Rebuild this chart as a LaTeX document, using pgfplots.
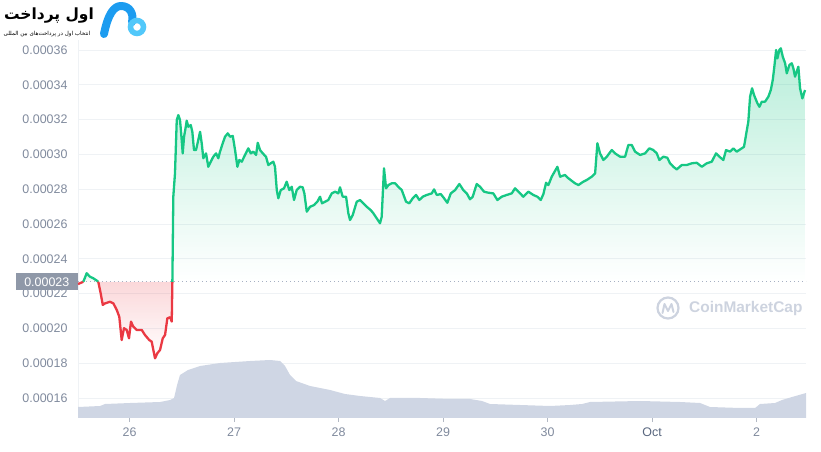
\documentclass[border=0pt]{standalone}
\usepackage{pgfplots}
\pgfplotsset{compat=1.18}
\usepackage{pgfplotstable}
\usepackage{fontspec}
\setmainfont{Liberation Sans}
\newfontfamily\fafont[Script=Arabic]{DejaVu Sans}
\TeXXeTstate=1
\usetikzlibrary{fadings}

\definecolor{up}{HTML}{16C784}
\definecolor{down}{HTML}{EA3943}
\definecolor{gridc}{HTML}{EFF2F5}
\definecolor{lbl}{HTML}{808A9D}
\definecolor{lbldark}{HTML}{58667E}
\definecolor{vol}{HTML}{CFD6E4}
\definecolor{wm}{HTML}{CDD3DF}
\definecolor{boxc}{HTML}{8F98A8}
\definecolor{basec}{HTML}{A6B0C3}
\definecolor{logob}{HTML}{1C9CF0}
\definecolor{logoc}{HTML}{52C8FA}

% price, days since Sep (26 = Sep 26), red/green pieces split at the open price
\pgfplotstableread{
d p
25.507 0.0002255
25.558 0.0002268
}\priceA
\pgfplotstableread{
d p
25.558 0.0002268
25.590 0.0002317
25.622 0.0002297
25.654 0.0002288
25.679 0.0002278
25.701 0.0002268
}\priceB
\pgfplotstableread{
d p
25.701 0.0002268
25.724 0.0002202
25.744 0.0002135
25.766 0.0002144
25.813 0.0002153
25.845 0.0002144
25.878 0.0002106
25.902 0.0002067
25.925 0.0001933
25.947 0.0002001
25.973 0.0001991
25.995 0.0001943
26.014 0.0002039
26.036 0.0002010
26.069 0.0001991
26.117 0.0001991
26.148 0.0001962
26.189 0.0001933
26.212 0.0001924
26.228 0.0001876
26.244 0.0001828
26.266 0.0001857
26.292 0.0001876
26.318 0.0001943
26.340 0.0001962
26.362 0.0002058
26.388 0.0002064
26.404 0.0002039
26.410 0.0002268
}\priceC
% first row only closes the fill back to the open price
\pgfplotstableread{
d p
32.464 0.0002268
26.410 0.0002268
26.419 0.0002757
26.435 0.0002891
26.452 0.0003198
26.467 0.0003226
26.483 0.0003198
26.493 0.0003130
26.509 0.0003006
26.522 0.0003102
26.541 0.0003169
26.547 0.0003194
26.563 0.0003159
26.586 0.0003169
26.601 0.0003130
26.617 0.0003025
26.636 0.0003025
26.658 0.0003083
26.675 0.0003130
26.691 0.0003064
26.706 0.0002978
26.732 0.0003006
26.754 0.0002929
26.777 0.0002958
26.802 0.0002987
26.828 0.0003006
26.850 0.0002978
26.866 0.0003016
26.892 0.0003064
26.914 0.0003102
26.940 0.0003121
26.962 0.0003102
26.988 0.0003106
27.010 0.0003025
27.032 0.0002929
27.051 0.0002968
27.074 0.0002958
27.105 0.0002997
27.137 0.0003035
27.160 0.0003006
27.185 0.0003016
27.211 0.0002997
27.227 0.0003067
27.249 0.0003025
27.275 0.0003006
27.306 0.0002987
27.328 0.0002939
27.351 0.0002949
27.376 0.0002958
27.392 0.0002929
27.409 0.0002795
27.424 0.0002748
27.447 0.0002795
27.478 0.0002805
27.504 0.0002843
27.529 0.0002795
27.552 0.0002814
27.574 0.0002738
27.600 0.0002795
27.632 0.0002814
27.657 0.0002811
27.673 0.0002776
27.696 0.0002671
27.727 0.0002699
27.766 0.0002709
27.797 0.0002728
27.823 0.0002757
27.842 0.0002719
27.871 0.0002728
27.902 0.0002738
27.935 0.0002776
27.967 0.0002786
27.998 0.0002776
28.014 0.0002811
28.040 0.0002757
28.072 0.0002757
28.094 0.0002662
28.110 0.0002623
28.136 0.0002652
28.174 0.0002728
28.206 0.0002738
28.237 0.0002719
28.270 0.0002699
28.308 0.0002680
28.333 0.0002662
28.365 0.0002633
28.397 0.0002604
28.413 0.0002642
28.435 0.0002920
28.455 0.0002805
28.477 0.0002824
28.509 0.0002834
28.541 0.0002834
28.572 0.0002814
28.605 0.0002795
28.646 0.0002728
28.677 0.0002719
28.710 0.0002748
28.742 0.0002767
28.773 0.0002738
28.806 0.0002757
28.844 0.0002767
28.892 0.0002776
28.914 0.0002799
28.940 0.0002767
28.978 0.0002772
29.010 0.0002748
29.041 0.0002722
29.074 0.0002776
29.115 0.0002795
29.156 0.0002830
29.194 0.0002795
29.227 0.0002776
29.258 0.0002742
29.284 0.0002757
29.322 0.0002830
29.354 0.0002814
29.392 0.0002786
29.433 0.0002780
29.481 0.0002776
29.520 0.0002738
29.562 0.0002757
29.609 0.0002767
29.657 0.0002776
29.689 0.0002805
29.730 0.0002780
29.768 0.0002757
29.816 0.0002786
29.864 0.0002767
29.902 0.0002757
29.935 0.0002738
29.960 0.0002772
29.986 0.0002837
30.008 0.0002824
30.040 0.0002872
30.062 0.0002895
30.094 0.0002929
30.120 0.0002872
30.167 0.0002882
30.199 0.0002863
30.263 0.0002834
30.295 0.0002824
30.342 0.0002843
30.375 0.0002853
30.423 0.0002872
30.455 0.0002891
30.477 0.0003064
30.502 0.0003006
30.534 0.0002968
30.567 0.0002987
30.614 0.0003025
30.646 0.0003006
30.694 0.0002987
30.742 0.0002987
30.773 0.0003054
30.806 0.0003054
30.837 0.0003016
30.885 0.0002997
30.933 0.0003006
30.974 0.0003035
31.013 0.0003025
31.045 0.0003006
31.070 0.0002968
31.108 0.0002987
31.146 0.0002981
31.172 0.0002949
31.204 0.0002929
31.236 0.0002914
31.284 0.0002939
31.332 0.0002939
31.380 0.0002949
31.428 0.0002952
31.476 0.0002929
31.523 0.0002949
31.571 0.0002958
31.612 0.0003006
31.644 0.0002987
31.682 0.0002968
31.708 0.0003025
31.746 0.0003016
31.778 0.0003035
31.810 0.0003016
31.858 0.0003035
31.880 0.0003044
31.899 0.0003112
31.921 0.0003188
31.938 0.0003332
31.957 0.0003380
31.976 0.0003341
32.008 0.0003294
32.027 0.0003274
32.050 0.0003303
32.081 0.0003303
32.113 0.0003332
32.136 0.0003370
32.155 0.0003428
32.170 0.0003504
32.187 0.0003600
32.199 0.0003552
32.218 0.0003600
32.232 0.0003610
32.251 0.0003561
32.273 0.0003524
32.289 0.0003466
32.314 0.0003514
32.337 0.0003524
32.352 0.0003495
32.368 0.0003447
32.400 0.0003504
32.416 0.0003380
32.438 0.0003322
32.464 0.0003370
}\priceD
% volume, arbitrary units
\pgfplotstableread{
d v
25.507 11
25.718 12
25.766 14
26.005 15
26.292 16
26.388 18
26.426 20
26.455 33
26.483 43
26.560 48
26.675 52
26.866 55
27.153 57
27.344 58
27.440 57
27.488 52
27.536 43
27.593 37
27.727 32
27.919 28
28.062 24
28.206 22
28.397 20
28.445 17
28.493 20
28.780 20
29.067 19
29.258 19
29.373 17
29.450 14
29.737 13
30.024 12
30.215 13
30.330 14
30.407 16
30.885 17
31.268 16
31.459 15
31.555 11
31.842 10
31.986 10
32.033 14
32.177 15
32.244 18
32.339 21
32.473 25
}\volume

\begin{document}
\begin{tikzpicture}
\begin{axis}[
    name=main,
    scale only axis,
    width=728bp, height=378.4bp,
    xmin=25.507, xmax=32.473,
    ymin=0.0001485, ymax=0.000366,
    axis lines=left,
    x axis line style={draw=none,-},
    y axis line style={draw=gridc,-},
    xtick={26,27,28,29,30,31,32},
    xticklabels={26,27,28,29,30,{\textcolor{lbldark}{Oct}},2},
    ytick={0.00016,0.00018,0.00020,0.00022,0.00024,0.00026,0.00028,0.00030,0.00032,0.00034,0.00036},
    scaled y ticks=false,
    ymajorgrids,
    major grid style={draw=gridc, line width=0.8bp},
    tick align=outside,
    major tick length=4bp,
    xtick style={draw=lbl!60, line width=0.8bp},
    ytick style={draw=none},
    tick label style={font=\fontsize{12.5}{14}\selectfont, text=lbl},
    xticklabel style={yshift=-2.5bp},
    /pgf/number format/assume math mode=true,
    yticklabel style={xshift=-3bp, /pgf/number format/fixed, /pgf/number format/fixed zerofill, /pgf/number format/precision=5},
    extra y ticks={0.0002268},
    extra y tick labels={0.00023},
    extra y tick style={grid=none, yticklabel style={fill=boxc, text=white, minimum width=62bp, minimum height=17bp, inner sep=0pt, xshift=7bp}},
]
\addplot[draw=none, fill=up, fill opacity=0.3, path fading=south] table[x=d, y=p] {\priceD};
\addplot[draw=none, fill=up, fill opacity=0.2, path fading=south] table[x=d, y=p] {\priceB};
\addplot[draw=none, fill=down, fill opacity=0.2, path fading=south] table[x=d, y=p] {\priceC};
\addplot[basec, line width=1bp, dash pattern=on 1bp off 3bp] coordinates {(25.507,0.0002268) (32.473,0.0002268)};
\addplot[down, line width=2.3bp, line join=round] table[x=d, y=p] {\priceA};
\addplot[up, line width=2.3bp, line join=round] table[x=d, y=p] {\priceB};
\addplot[down, line width=2.3bp, line join=round] table[x=d, y=p] {\priceC};
\addplot[up, line width=2.3bp, line join=round, skip coords between index={0}{1}] table[x=d, y=p] {\priceD};
\end{axis}
\begin{axis}[
    scale only axis,
    width=728bp, height=378.4bp,
    xmin=25.507, xmax=32.473,
    ymin=0, ymax=378.4,
    hide axis,
]
\addplot[draw=none, fill=vol] table[x=d, y=v] {\volume} \closedcycle;
\end{axis}

% overlays in image pixels, origin at top left
\begin{scope}[shift={(main.south west)}, xshift=-78bp, yshift=418bp, x=1bp, y=-1bp]
  % CoinMarketCap watermark
  \draw[wm, line width=2.2bp] (668,308) circle (10.5);
  \draw[wm, line width=2bp, line join=round, line cap=round] (662.5,313) -- (664.5,304) -- (668,311) -- (671.5,304) -- (673.5,312);
  \node[anchor=west, inner sep=0pt, text=wm, font=\bfseries\fontsize{15.5}{18}\selectfont] at (689,309) {CoinMarketCap};
  % site logo
  \node[inner sep=0pt, font=\fafont\bfseries\fontsize{15.5}{18}\selectfont] at (49,16) {\beginR اول پرداخت\endR};
  \node[inner sep=0pt, font=\fafont\fontsize{5.6}{6}\selectfont] at (47,34) {\beginR انتخاب اول در پرداخت‌های بین المللی\endR};
  \draw[logob, line width=8bp, line cap=round, line join=round] (104,34) .. controls (108,14) and (114,6) .. (121,6) .. controls (130,6) and (134,14) .. (132,22);
  \draw[logoc, line width=5.5bp] (137,27) circle (6.5);
\end{scope}

\pgfresetboundingbox
\path (main.south west) ++(-78bp,-34bp) rectangle ++(821bp,452bp);
\end{tikzpicture}
\end{document}
